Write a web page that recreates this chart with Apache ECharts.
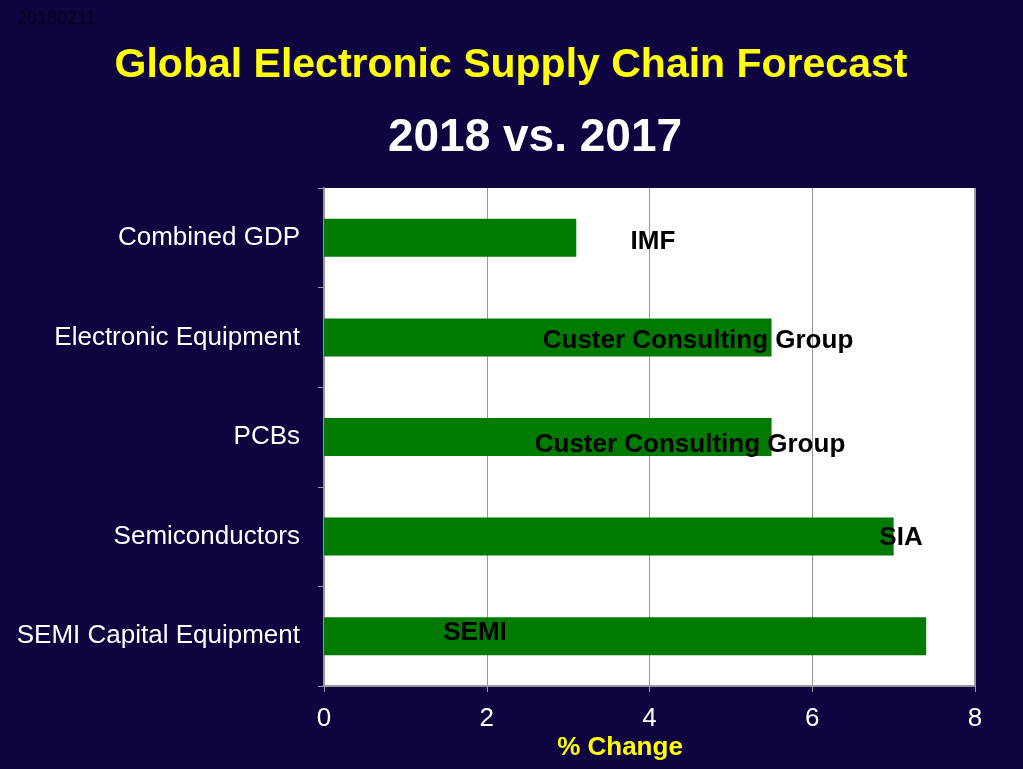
<!DOCTYPE html>
<html>
<head>
<meta charset="utf-8">
<script src="https://cdn.jsdelivr.net/npm/echarts@6/dist/echarts.min.js"></script>
<style>
html,body{margin:0;padding:0;background:#0e0440;}
#c{width:1023px;height:769px;}
</style>
</head>
<body>
<div id="c"></div>
<script>
var categories = ['Combined GDP', 'Electronic Equipment', 'PCBs', 'Semiconductors', 'SEMI Capital Equipment'];
var values = [3.1, 5.5, 5.5, 7.0, 7.4];
var sources = ['IMF', 'Custer Consulting Group', 'Custer Consulting Group', 'SIA', 'SEMI'];
var xTicks = [0, 2, 4, 6, 8];

var labelPos = [[329, 23], [374, 22], [366, 27], [577, 20], [151, 16]];

var chart = echarts.init(document.getElementById('c'));
var F = '"Liberation Sans", Arial, sans-serif';
chart.setOption({
  backgroundColor: '#0e0440',
  animation: false,
  grid: { left: 324, right: 48, top: 188, bottom: 83, backgroundColor: '#ffffff', show: true, borderWidth: 0 },
  xAxis: {
    type: 'value', min: xTicks[0], max: xTicks[xTicks.length - 1], interval: 2,
    axisLine: { show: true, lineStyle: { color: '#999999', width: 2 } },
    axisTick: { show: true, length: 6, lineStyle: { color: '#999999' } },
    splitLine: { show: true, lineStyle: { color: '#999999', width: 1 } },
    axisLabel: { color: '#ffffff', fontSize: 26, fontFamily: F, margin: 20 }
  },
  yAxis: {
    type: 'category', data: categories, inverse: true,
    axisLine: { show: true, lineStyle: { color: '#999999', width: 2 } },
    axisTick: { show: true, length: 6, lineStyle: { color: '#999999' } },
    axisLabel: { color: '#ffffff', fontSize: 26, fontFamily: F, margin: 24 }
  },
  graphic: [
    { type: 'text', left: 17, top: 10, style: { text: '20180211', fill: '#06061c', font: '18px ' + F } },
    { type: 'text', x: 511, y: 66, style: { text: 'Global Electronic Supply Chain Forecast', fill: '#ffff00', font: 'bold 41px ' + F, textAlign: 'center', textVerticalAlign: 'middle' } },
    { type: 'text', x: 535, y: 138, style: { text: '2018 vs. 2017', fill: '#ffffff', font: 'bold 46px ' + F, textAlign: 'center', textVerticalAlign: 'middle', shadowColor: 'rgba(0,0,0,0.6)', shadowOffsetX: 2, shadowOffsetY: 2, shadowBlur: 2 } },
    { type: 'text', x: 620, y: 748, style: { text: '% Change', fill: '#ffff00', font: 'bold 26px ' + F, textAlign: 'center', textVerticalAlign: 'middle' } },
    { type: 'line', shape: { x1: 975, y1: 188, x2: 975, y2: 686 }, style: { stroke: '#999999', lineWidth: 2 } }
  ],
  series: [{
    type: 'bar',
    barWidth: 38,
    itemStyle: { color: '#007a00' },
    data: values.map(function (v, i) {
      return {
        value: v,
        label: {
          show: true,
          formatter: sources[i],
          position: labelPos[i],
          align: 'center',
          verticalAlign: 'middle',
          color: '#000000',
          fontSize: 26,
          fontWeight: 'bold',
          fontFamily: F
        }
      };
    })
  }]
});
</script>
</body>
</html>
